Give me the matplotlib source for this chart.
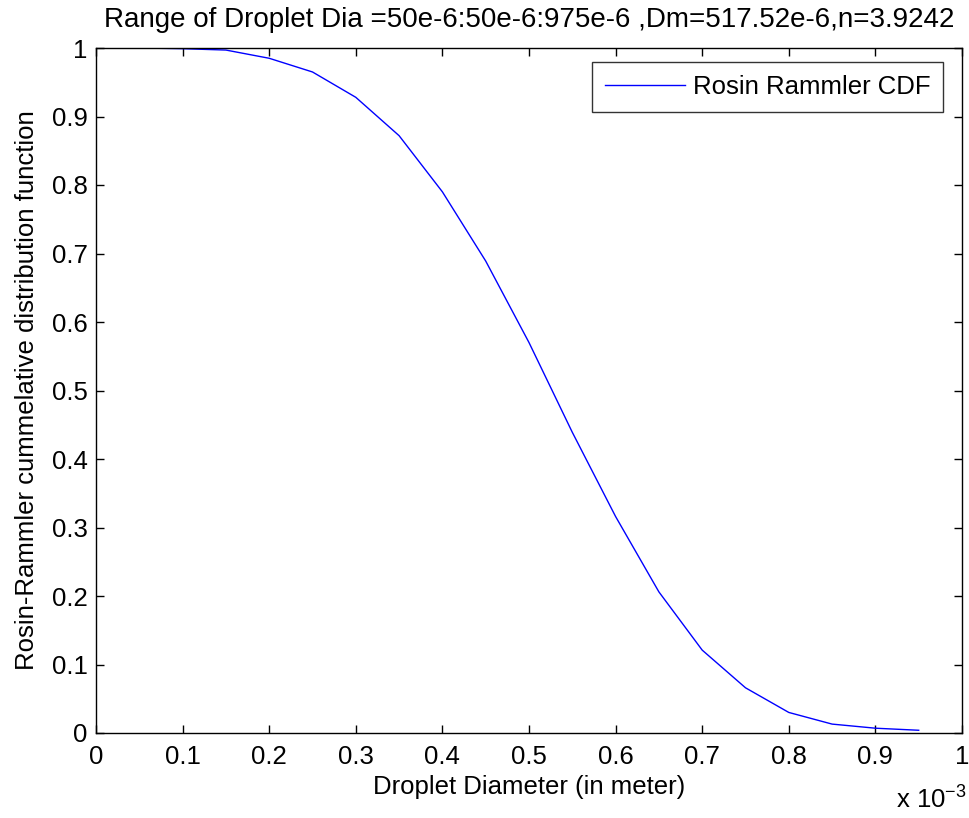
import matplotlib
matplotlib.use("Agg")
import matplotlib.pyplot as plt

plt.rcParams['font.family'] = ['Liberation Sans', 'DejaVu Sans']

diameter_mm = [0.05, 0.10, 0.15, 0.20, 0.25, 0.30, 0.35, 0.40, 0.45, 0.50,
               0.55, 0.60, 0.65, 0.70, 0.75, 0.80, 0.85, 0.90, 0.95]
cdf = [1.000, 0.999, 0.997, 0.985, 0.965, 0.928, 0.872, 0.790, 0.689, 0.570,
       0.439, 0.316, 0.206, 0.121, 0.066, 0.030, 0.013, 0.007, 0.004]
x_ticks = [0, 0.1, 0.2, 0.3, 0.4, 0.5, 0.6, 0.7, 0.8, 0.9, 1]
x_ticklabels = ['0', '0.1', '0.2', '0.3', '0.4', '0.5', '0.6', '0.7', '0.8', '0.9', '1']
y_ticks = [0, 0.1, 0.2, 0.3, 0.4, 0.5, 0.6, 0.7, 0.8, 0.9, 1]
y_ticklabels = ['0', '0.1', '0.2', '0.3', '0.4', '0.5', '0.6', '0.7', '0.8', '0.9', '1']

FS = 18.5
FS_TITLE = 20

LEFT, RIGHT, TOP, BOTTOM = 96, 962, 48, 733

fig = plt.figure(figsize=(9.7, 8.18), dpi=100)
ax = fig.add_axes([LEFT/970, 1-BOTTOM/818, (RIGHT-LEFT)/970, (BOTTOM-TOP)/818])

ax.plot(diameter_mm, cdf, color='#0000ff', lw=1.0, label='Rosin Rammler CDF')
ax.set_xlim(0, 1)
ax.set_ylim(0, 1)
ax.set_xticks(x_ticks)
ax.set_xticklabels(x_ticklabels)
ax.set_yticks(y_ticks)
ax.set_yticklabels(y_ticklabels)
ax.tick_params(direction='in', top=True, right=True, length=6, width=1,
               labelsize=FS, colors='black')
ax.tick_params(axis='y', pad=6)
ax.tick_params(axis='x', pad=9)
for s in ax.spines.values():
    s.set_linewidth(1.0)

ax.set_xlabel('Droplet Diameter (in meter)', fontsize=FS, labelpad=4)
ax.set_ylabel('Rosin-Rammler cummelative distribution function', fontsize=FS, labelpad=9)
fig.text((LEFT+RIGHT)/2/970, 1-27/818,
         'Range of Droplet Dia =50e-6:50e-6:975e-6 ,Dm=517.52e-6,n=3.9242',
         ha='center', va='baseline', fontsize=FS_TITLE)
fig.text(896/970, 1-808/818, r'x 10$^{\mathregular{-3}}$', ha='left', va='baseline', fontsize=FS)

leg = ax.legend(loc='upper right', bbox_to_anchor=((943-LEFT)/(RIGHT-LEFT), (BOTTOM-62)/(BOTTOM-TOP)),
                fontsize=FS, frameon=True, fancybox=False,
                edgecolor='black', borderaxespad=0, handlelength=3.1,
                borderpad=0.5, handletextpad=0.3)
leg.get_frame().set_linewidth(1.0)

fig.savefig('out.png', dpi=100, facecolor='white')
